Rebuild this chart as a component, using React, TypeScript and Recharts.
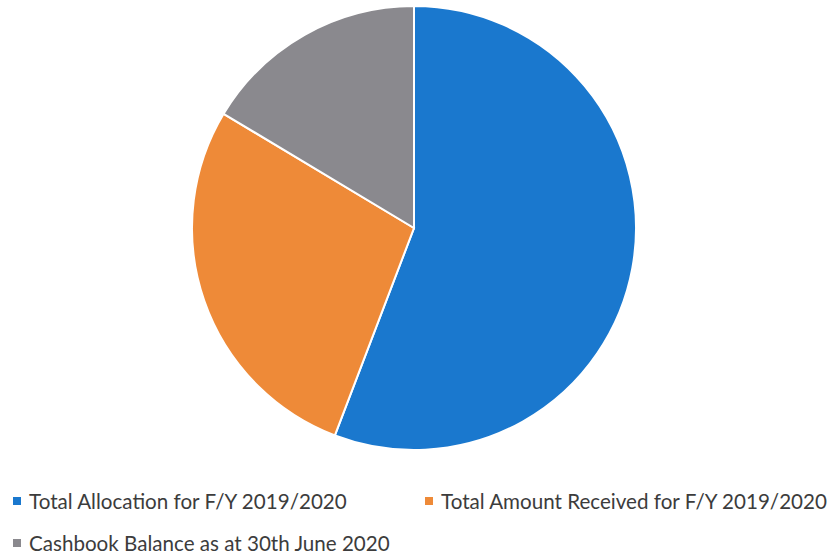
import React from 'react';
import { PieChart, Pie, Cell, Legend } from 'recharts';

const categories = [
  'Total Allocation for F/Y 2019/2020',
  'Total Amount Received for F/Y 2019/2020',
  'Cashbook Balance as at 30th June 2020',
];
const values = [55.8, 27.8, 16.4];
const colors = ['#1A78CE', '#EE8A38', '#8A898E'];

const data = categories.map((name, i) => ({ name, value: values[i] }));

// legend item placement (left, top) within the legend box
const legendSpots = [
  { left: 13, top: 0 },
  { left: 425, top: 0 },
  { left: 13, top: 42 },
];

const renderLegend = () => (
  <div style={{ position: 'relative', width: 830, height: 64 }}>
    {data.map((d, i) => (
      <div
        key={d.name}
        style={{
          position: 'absolute',
          left: legendSpots[i].left,
          top: legendSpots[i].top,
          display: 'flex',
          alignItems: 'center',
          fontFamily: 'Lato, "Open Sans", sans-serif',
          fontSize: 20.6,
          lineHeight: '22px',
          color: '#3c3c3c',
          whiteSpace: 'nowrap',
        }}
      >
        <span style={{ width: 8, height: 8, background: colors[i], marginRight: 8, display: 'inline-block' }} />
        {d.name}
      </div>
    ))}
  </div>
);

const App: React.FC = () => {
  return (
    <div style={{ position: 'absolute', left: 0, top: 0, width: 830, height: 555, background: '#fff' }}>
      <PieChart width={830} height={555} margin={{ top: 0, right: 0, bottom: 0, left: 0 }}>
        <Pie
          data={data}
          dataKey="value"
          nameKey="name"
          cx={414}
          cy={228}
          outerRadius={222}
          startAngle={90}
          endAngle={-270}
          stroke="#ffffff"
          strokeWidth={2}
          isAnimationActive={false}
        >
          {data.map((d, i) => (
            <Cell key={d.name} fill={colors[i]} />
          ))}
        </Pie>
        <Legend
          content={renderLegend}
          wrapperStyle={{ position: 'absolute', left: 0, top: 490, width: 830 }}
        />
      </PieChart>
    </div>
  );
};

export default App;
